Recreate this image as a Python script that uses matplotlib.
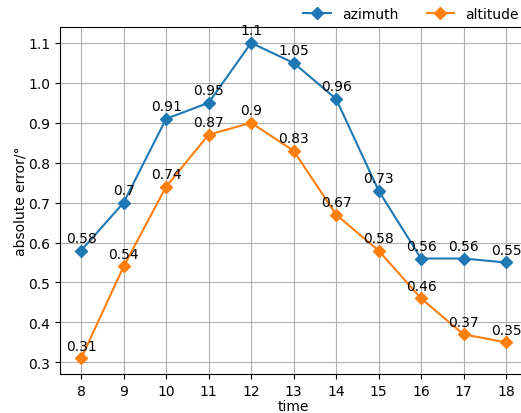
import matplotlib
matplotlib.use("Agg")
import matplotlib.pyplot as plt

hours = [8, 9, 10, 11, 12, 13, 14, 15, 16, 17, 18]
azimuth = [0.58, 0.7, 0.91, 0.95, 1.1, 1.05, 0.96, 0.73, 0.56, 0.56, 0.55]
altitude = [0.31, 0.54, 0.74, 0.87, 0.9, 0.83, 0.67, 0.58, 0.46, 0.37, 0.35]

fig = plt.figure(figsize=(5.21, 4.14), dpi=100)
ax = fig.add_axes([0.115, 0.094, 0.897, 0.838])

ax.plot(hours, azimuth, marker="D", label="azimuth")
ax.plot(hours, altitude, marker="D", label="altitude")

for x, y in zip(hours, azimuth):
    ax.annotate(str(y), (x, y), xytext=(0, 4), textcoords="offset points",
                ha="center", va="bottom")
for x, y in zip(hours, altitude):
    ax.annotate(str(y), (x, y), xytext=(0, 4), textcoords="offset points",
                ha="center", va="bottom")

ax.set_xticks(hours)
ax.grid(True)
ax.set_xlabel("time", labelpad=0.5)
ax.set_ylabel("absolute error/°", labelpad=0.5)

fig.legend(loc="upper right", bbox_to_anchor=(1.02, 1.012), ncol=2, frameon=False)

fig.savefig("out.png", dpi=100)
